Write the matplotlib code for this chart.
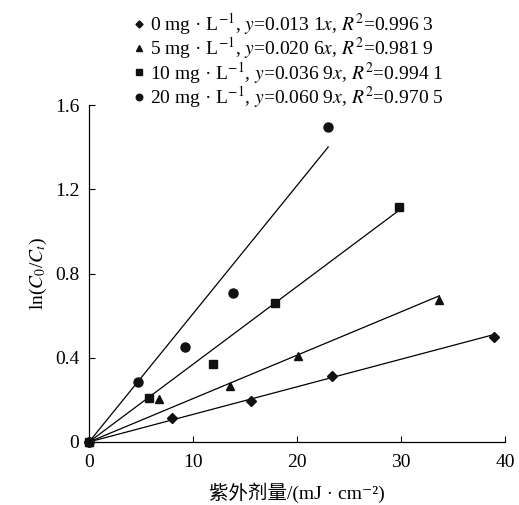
import numpy as np
import matplotlib.pyplot as plt
from matplotlib.lines import Line2D

plt.rcParams['font.family'] = ['Liberation Serif', 'Noto Sans CJK SC', 'DejaVu Serif']
plt.rcParams['mathtext.fontset'] = 'stix'

# 0 mg/L
x0 = [0, 7.95, 15.6, 23.4, 38.9]
y0 = [0, 0.112, 0.195, 0.315, 0.497]
# 5 mg/L
x5 = [0, 6.76, 13.56, 20.1, 33.7]
y5 = [0, 0.204, 0.267, 0.408, 0.674]
# 10 mg/L
x10 = [0, 5.8, 11.9, 17.9, 29.8]
y10 = [0, 0.209, 0.369, 0.659, 1.114]
# 20 mg/L
x20 = [0, 4.7, 9.2, 13.8, 23.0]
y20 = [0, 0.286, 0.452, 0.706, 1.497]

slopes = [0.0131, 0.0206, 0.0369, 0.0609]
markers = ['D', '^', 's', 'o']
msizes = [5, 6.2, 6.2, 6.5]
labels = [
    '0 mg · L$^{−1}$, $y$=0.013 1$x$, $R^2$=0.996 3',
    '5 mg · L$^{−1}$, $y$=0.020 6$x$, $R^2$=0.981 9',
    '10 mg · L$^{−1}$, $y$=0.036 9$x$, $R^2$=0.994 1',
    '20 mg · L$^{−1}$, $y$=0.060 9$x$, $R^2$=0.970 5',
]

xs = [x0, x5, x10, x20]
ys = [y0, y5, y10, y20]

fig = plt.figure(figsize=(5.19, 5.05), dpi=100)
ax = fig.add_axes([0.1715, 0.1248, 0.8015, 0.6672])

for x, y, k, m, ms in zip(xs, ys, slopes, markers, msizes):
    xl = np.array([0, max(x)])
    ax.plot(xl, k * xl, color='black', lw=0.9)
    ax.plot(x, y, linestyle='none', marker=m, color='#111111', ms=ms, clip_on=False)

ax.set_xlim(0, 40)
ax.set_ylim(0, 1.6)
ax.set_xticks([0, 10, 20, 30, 40])
ax.set_yticks([0, 0.4, 0.8, 1.2, 1.6])
ax.set_yticklabels(['0', '0.4', '0.8', '1.2', '1.6'])
ax.tick_params(direction='in', length=4, width=0.8, labelsize=14)
ax.tick_params(axis='x', pad=9)
ax.tick_params(axis='y', pad=7)
for s in ['top', 'right']:
    ax.spines[s].set_visible(False)
for s in ['left', 'bottom']:
    ax.spines[s].set_linewidth(0.9)

ax.set_xlabel('紫外剂量/(mJ · cm⁻²)', fontsize=14, labelpad=8)
ax.set_ylabel('ln($C_0$/$C_t$)', fontsize=14, labelpad=4)

handles = [Line2D([], [], linestyle='none', marker=m, color='#111111', ms=ms * 0.72)
           for m, ms in zip(markers, msizes)]
fig.legend(handles, labels, loc='upper left', bbox_to_anchor=(0.23, 1.005),
           frameon=False, fontsize=14, handlelength=0.6, handletextpad=0.25,
           labelspacing=-0.08, borderpad=0.2)

fig.savefig('out.png', dpi=100)
